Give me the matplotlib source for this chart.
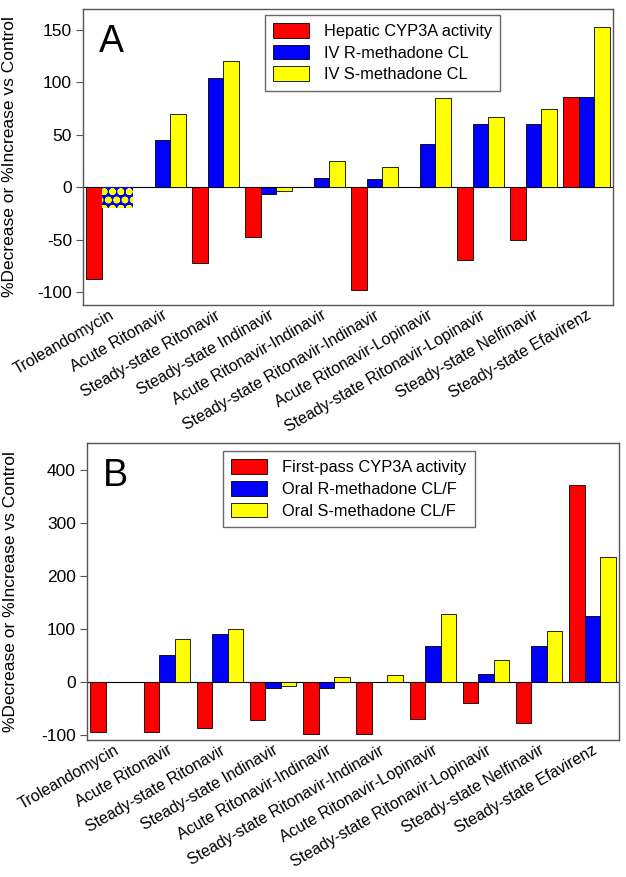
import numpy as np
import matplotlib
matplotlib.use("Agg")
import matplotlib.pyplot as plt
from matplotlib.patches import Patch

plt.rcParams['font.family'] = ['Liberation Sans', 'DejaVu Sans']
plt.rcParams['hatch.linewidth'] = 2.4
plt.rcParams['axes.unicode_minus'] = False

categories = ["Troleandomycin", "Acute Ritonavir", "Steady-state Ritonavir",
              "Steady-state Indinavir", "Acute Ritonavir-Indinavir",
              "Steady-state Ritonavir-Indinavir", "Acute Ritonavir-Lopinavir",
              "Steady-state Ritonavir-Lopinavir", "Steady-state Nelfinavir",
              "Steady-state Efavirenz"]

# Panel A (IV)
hepatic_cyp3a = [-87, np.nan, -72, -47, np.nan, -98, np.nan, -69, -50, 86]
iv_r_cl = [np.nan, 45, 104, -6, 9, 8, 41, 60, 60, 86]
iv_s_cl = [np.nan, 70, 120, -3, 25, 19, 85, 67, 75, 153]
trole_iv_combined = -20  # combined R/S value shown as patterned bar

# Panel B (oral)
firstpass_cyp3a = [-95, -95, -87, -71, -99, -98, -69, -39, -77, 370]
oral_r_clf = [np.nan, 50, 90, -11, -12, 0.6, 67, 14, 67, 124]
oral_s_clf = [np.nan, 80, 100, -8, 10, 13, 128, 41, 95, 235]

labels_a = ["Hepatic CYP3A activity", "IV R-methadone CL", "IV S-methadone CL"]
labels_b = ["First-pass CYP3A activity", "Oral R-methadone CL/F", "Oral S-methadone CL/F"]
yticks_a = [-100, -50, 0, 50, 100, 150]
yticks_b = [-100, 0, 100, 200, 300, 400]

RED, BLUE, YEL = "#ff0000", "#0000ff", "#ffff00"
W = 0.29
SPINE = "#555555"

fig = plt.figure(figsize=(6.26, 8.77), dpi=100)
axA = fig.add_axes([83/626, 1-305/877, (613-83)/626, (305-9)/877])
axB = fig.add_axes([87/626, 1-740/877, (619-87)/626, (740-443)/877])

def draw(ax, s1, s2, s3, labels, yticks, ylim, letter, leg_bbox):
    x = np.arange(len(categories))
    ax.bar(x - W, s1, W, color=RED, edgecolor="black", linewidth=0.6, zorder=2)
    ax.bar(x, s2, W, color=BLUE, edgecolor="black", linewidth=0.6, zorder=2)
    ax.bar(x + W, s3, W, color=YEL, edgecolor="black", linewidth=0.6, zorder=2)
    ax.axhline(0, color="black", linewidth=0.8, zorder=1)
    ax.set_xlim(-0.5, len(categories) - 0.5)
    ax.set_ylim(*ylim)
    ax.set_yticks(yticks)
    ax.set_xticks(x)
    ax.set_xticklabels(categories, rotation=30, ha="right", rotation_mode="anchor",
                       fontsize=11.5)
    ax.tick_params(axis="x", length=0, pad=2)
    ax.tick_params(axis="y", length=5, direction="out", color=SPINE, labelsize=12.5, pad=3)
    for s in ax.spines.values():
        s.set_color(SPINE)
        s.set_linewidth(1.0)
    ax.set_ylabel("%Decrease or %Increase vs Control", fontsize=12.5)
    ax.text(0.03, 0.95, letter, transform=ax.transAxes, fontsize=27,
            va="top", ha="left")
    handles = [Patch(facecolor=RED, edgecolor="black", linewidth=0.6),
               Patch(facecolor=BLUE, edgecolor="black", linewidth=0.6),
               Patch(facecolor=YEL, edgecolor="black", linewidth=0.6)]
    leg = ax.legend(handles, labels, loc="upper left", bbox_to_anchor=leg_bbox,
                    fontsize=11.8, frameon=True, fancybox=False, handlelength=2.2,
                    handleheight=1.0, handletextpad=0.9, labelspacing=0.35,
                    borderpad=0.5, borderaxespad=0)
    leg.get_frame().set_edgecolor("#444444")
    leg.get_frame().set_linewidth(1.0)
    return x

x = draw(axA, hepatic_cyp3a, iv_r_cl, iv_s_cl, labels_a, yticks_a, (-112, 170), "A",
         (0.343, 0.98))
# patterned combined bar for troleandomycin (IV)
axA.bar(x[0] + W/2, trole_iv_combined, 2*W, color=BLUE, edgecolor=YEL,
        hatch="oo", linewidth=0, zorder=2)
draw(axB, firstpass_cyp3a, oral_r_clf, oral_s_clf, labels_b, yticks_b, (-109.5, 450), "B",
     (0.256, 0.973))
axA.yaxis.set_label_coords(-0.125, 0.5)
axB.yaxis.set_label_coords(-0.13, 0.5)

fig.savefig("out.png", dpi=100)
